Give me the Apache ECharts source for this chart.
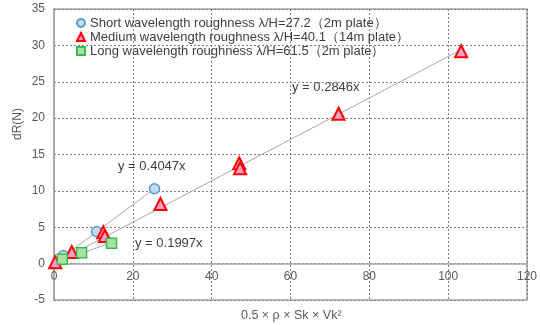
<!DOCTYPE html>
<html>
<head>
<meta charset="utf-8">
<script src="https://cdn.jsdelivr.net/npm/echarts@6/dist/echarts.min.js"></script>
<style>
  html, body { margin: 0; padding: 0; background: #fff; }
  #chart { width: 540px; height: 325px; }
</style>
</head>
<body>
<div id="chart"></div>
<script>
// data
const seriesNames = [
  'Short wavelength roughness λ/H=27.2（2m plate）',
  'Medium wavelength roughness λ/H=40.1（14m plate）',
  'Long wavelength roughness λ/H=61.5（2m plate）'
];
const shortX = [2.4, 10.8, 25.5];
const shortY = [1.1, 4.4, 10.3];
const mediumX = [0.3, 4.5, 12.5, 12.9, 27.0, 47.0, 47.2, 72.2, 103.3];
const mediumY = [0.2, 1.6, 4.3, 3.8, 8.2, 13.8, 13.1, 20.6, 29.2];
const longX = [2.1, 7.0, 14.6];
const longY = [0.6, 1.5, 2.8];
const slopes = [0.4047, 0.2846, 0.1997];
const fitLabels = ['y = 0.4047x', 'y = 0.2846x', 'y = 0.1997x'];

const xs = [shortX, mediumX, longX];
const ys = [shortY, mediumY, longY];

// marker styles per series
const markers = [
  { symbol: 'circle', size: 10, fill: 'rgba(189,215,238,0.9)', border: '#5b9bd5', bw: 1.5 },
  { symbol: 'triangle', size: 12, fill: '#f59fc8', border: '#ff0000', bw: 2 },
  { symbol: 'rect', size: 10, fill: '#a9e3a4', border: '#3cb850', bw: 1.5 }
];

const pairs = (x, y) => x.map((v, i) => [v, y[i]]);

const series = [];
// trend lines first, so markers sit on top
xs.forEach((x, i) => {
  const xMax = Math.max(...x);
  series.push({
    type: 'line',
    silent: true,
    symbol: 'none',
    z: 1,
    lineStyle: { color: '#a6a6a6', width: 1 },
    data: [[0, 0], [xMax, slopes[i] * xMax]]
  });
});
xs.forEach((x, i) => {
  const m = markers[i];
  series.push({
    name: seriesNames[i],
    type: 'scatter',
    symbol: m.symbol,
    symbolSize: m.size,
    z: 3 + i,
    itemStyle: { color: m.fill, borderColor: m.border, borderWidth: m.bw, opacity: 1 },
    data: pairs(x, ys[i])
  });
});

const chart = echarts.init(document.getElementById('chart'));
const txt = '#404040';
const lbl = '#595959';
chart.setOption({
  animation: false,
  textStyle: { fontFamily: '"Liberation Sans", Arial, sans-serif' },
  grid: {
    left: 54, right: 11, top: 9, bottom: 25,
    show: true, borderColor: '#a6a6a6', borderWidth: 1.5
  },
  legend: {
    data: seriesNames,
    orient: 'vertical',
    left: 71, top: 11,
    itemWidth: 8, itemHeight: 8, itemGap: 0,
    textStyle: { color: txt, fontSize: 13, lineHeight: 14 }
  },
  xAxis: {
    type: 'value',
    min: 0, max: 120, interval: 20,
    position: 'bottom',
    offset: -36.5,
    axisLine: { onZero: false, lineStyle: { color: '#a6a6a6', width: 1.5 } },
    axisTick: { show: false },
    axisLabel: { color: lbl, fontSize: 12, margin: 7 },
    splitLine: { lineStyle: { color: '#7f7f7f', type: [2, 2], width: 1 } }
  },
  yAxis: {
    type: 'value',
    min: -5, max: 35, interval: 5,
    axisLine: { show: true, lineStyle: { color: '#a6a6a6', width: 1.5 } },
    axisTick: { show: false },
    axisLabel: { color: lbl, fontSize: 12, margin: 9 },
    splitLine: { lineStyle: { color: '#7f7f7f', type: [2, 2], width: 1 } }
  },
  graphic: [
    { type: 'text', left: 118, top: 160, style: { text: fitLabels[0], fill: txt, font: '13px "Liberation Sans", Arial' } },
    { type: 'text', left: 292, top: 81, style: { text: fitLabels[1], fill: txt, font: '13px "Liberation Sans", Arial' } },
    { type: 'text', left: 135, top: 237, style: { text: fitLabels[2], fill: txt, font: '13px "Liberation Sans", Arial' } },
    { type: 'text', left: 241, top: 309, style: { text: '0.5 × ρ × Sk × Vk²', fill: lbl, font: '12.5px "Liberation Sans", Arial' } },
    { type: 'text', x: 12, y: 140, rotation: Math.PI / 2, style: { text: 'dR(N)', fill: lbl, font: '12px "Liberation Sans", Arial' } }
  ],
  series: series
});
</script>
</body>
</html>
